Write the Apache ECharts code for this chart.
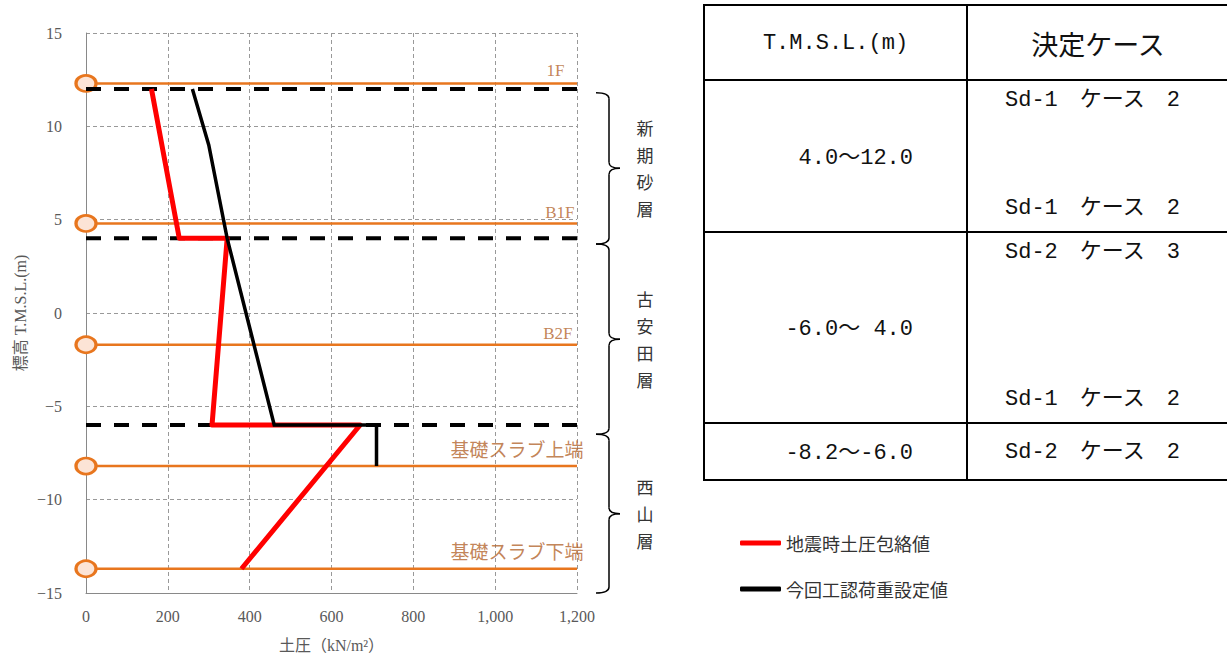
<!DOCTYPE html>
<html><head><meta charset="utf-8">
<script src="https://cdn.jsdelivr.net/npm/echarts@6/dist/echarts.min.js"></script>
<style>html,body{margin:0;padding:0;background:#fff}#c{width:1227px;height:653px}</style>
</head><body><div id="c"></div>
<script>
// ---------------- data ----------------
const xTicks = [0, 200, 400, 600, 800, 1000, 1200];
const xTickLabels = ['0', '200', '400', '600', '800', '1,000', '1,200'];
const yTicks = [-15, -10, -5, 0, 5, 10, 15];
const yTickLabels = ['−15', '−10', '−5', '0', '5', '10', '15'];

const redName = '地震時土圧包絡値';
const redPressure = [160, 228, 345, 308, 670, 380];
const redElev = [12, 4, 4, -6, -6, -13.7];

const blackName = '今回工認荷重設定値';
const blackPressure = [260, 300, 345, 460, 710, 710];
const blackElev = [12, 9, 4, -6, -6, -8.2];

const floorNames = ['1F', 'B1F', 'B2F', '基礎スラブ上端', '基礎スラブ下端'];
const floorElev = [12.3, 4.8, -1.7, -8.2, -13.7];

const boundaryElev = [12, 4, -6];

const layerNames = ['新期砂層', '古安田層', '西山層'];
const layerTop = [11.8, 3.7, -6.5];
const layerBottom = [3.7, -6.5, -15];

const tableHeader = ['T.M.S.L.(m)', '決定ケース'];
const tableRanges = ['4.0～12.0', '-6.0～ 4.0', '-8.2～-6.0'];
const tableCases = [['Sd-1\u3000ケース\u30002', 'Sd-1\u3000ケース\u30002'],
                    ['Sd-2\u3000ケース\u30003', 'Sd-1\u3000ケース\u30002'],
                    ['Sd-2\u3000ケース\u30002']];

// ---------------- styles / layout ----------------
const ORANGE = '#e8761e';
const LABEL_BROWN = '#b3652d';
const serif = "'Liberation Serif','Noto Sans CJK JP',serif";
const cjk = "'Noto Sans CJK JP',sans-serif";
const mono = "'Liberation Mono','Noto Sans CJK JP',monospace";
const floorLabelOffsets = [[-12, -13], [-2, -11], [-4, -11], [7, -16], [7, -16]];
const floorLabelSizes = [17, 17, 17, 19, 19];

const X_MIN = xTicks[0], X_MAX = xTicks[xTicks.length - 1];
const Y_MIN = yTicks[0], Y_MAX = yTicks[yTicks.length - 1];

const chart = echarts.init(document.getElementById('c'), null, { renderer: 'svg' });

const series = [];
// floor level lines
floorElev.forEach((y, i) => {
  series.push({
    type: 'line', name: 'floor' + i, silent: true,
    data: [[X_MIN, y], { value: [X_MAX, y], symbol: 'none' }],
    symbol: 'circle', symbolSize: [20, 16], showSymbol: true,
    lineStyle: { color: ORANGE, width: 2.5 },
    itemStyle: { color: '#fce4d6', borderColor: ORANGE, borderWidth: 3 },
    z: 3, animation: false
  });
});
// floor labels
series.push({
  type: 'scatter', name: 'floorLabels', silent: true, symbolSize: 1,
  itemStyle: { color: 'rgba(0,0,0,0)' },
  data: floorNames.map((n, i) => ({
    value: [X_MAX, floorElev[i]], name: n,
    label: { offset: floorLabelOffsets[i], fontSize: floorLabelSizes[i] }
  })),
  label: { show: true, position: 'left', distance: 0, formatter: p => p.name,
           color: LABEL_BROWN, fontFamily: serif },
  z: 7, animation: false
});
// stratum boundaries (black dashed)
boundaryElev.forEach((y, i) => {
  series.push({
    type: 'line', name: 'boundary' + i, silent: true, symbol: 'none',
    data: [[X_MIN, y], [X_MAX, y]],
    lineStyle: { color: '#000', width: 4, type: [15, 13], cap: 'butt' },
    z: 4, animation: false
  });
});
// red envelope
series.push({
  type: 'line', name: redName, symbol: 'none',
  data: redPressure.map((x, i) => [x, redElev[i]]),
  lineStyle: { color: '#ff0000', width: 5, join: 'round' },
  itemStyle: { color: '#ff0000' }, z: 5, animation: false
});
// black design value
series.push({
  type: 'line', name: blackName, symbol: 'none',
  data: blackPressure.map((x, i) => [x, blackElev[i]]),
  lineStyle: { color: '#000', width: 3.5, join: 'miter' },
  itemStyle: { color: '#000' }, z: 6, animation: false
});
// stratum braces
series.push({
  type: 'custom', name: 'layers', coordinateSystem: 'cartesian2d', clip: false, silent: true,
  encode: { x: 0, y: 1 },
  data: layerNames.map((n, i) => [X_MAX, layerTop[i], layerBottom[i]]),
  renderItem: (params, api) => {
    const top = api.coord([api.value(0), api.value(1)]);
    const bot = api.coord([api.value(0), api.value(2)]);
    const x0 = top[0] + 19, x1 = top[0] + 32, x2 = top[0] + 43;
    const yT = top[1], yB = bot[1], yM = (yT + yB) / 2, r = 6;
    const st = { stroke: '#000', fill: null, lineWidth: 1.5 };
    const name = layerNames[params.dataIndex];
    return {
      type: 'group', children: [
        { type: 'bezierCurve', shape: { x1: x0, y1: yT, x2: x1, y2: yT + r, cpx1: x1, cpy1: yT }, style: st },
        { type: 'line', shape: { x1: x1, y1: yT + r, x2: x1, y2: yM - r }, style: st },
        { type: 'bezierCurve', shape: { x1: x1, y1: yM - r, x2: x2, y2: yM, cpx1: x1, cpy1: yM }, style: st },
        { type: 'bezierCurve', shape: { x1: x2, y1: yM, x2: x1, y2: yM + r, cpx1: x1, cpy1: yM }, style: st },
        { type: 'line', shape: { x1: x1, y1: yM + r, x2: x1, y2: yB - r }, style: st },
        { type: 'bezierCurve', shape: { x1: x1, y1: yB - r, x2: x0, y2: yB, cpx1: x1, cpy1: yB }, style: st },
        { type: 'text', x: top[0] + 68, y: yM,
          style: { text: name.split('').join('\n'), fontSize: 17, fontFamily: cjk, fill: '#333',
                   align: 'center', verticalAlign: 'middle', lineHeight: 27 } }
      ]
    };
  },
  z: 8, animation: false
});

// ---------------- table (graphic) ----------------
const tX = [704, 967, 1229];
const tY = [5, 80, 232, 423, 480];
const graphics = [];
const lineSt = { stroke: '#000', lineWidth: 2 };
tY.forEach(y => graphics.push({ type: 'line', shape: { x1: tX[0] - 1, y1: y, x2: tX[2], y2: y }, style: lineSt }));
[tX[0], tX[1]].forEach(x => graphics.push({ type: 'line', shape: { x1: x, y1: tY[0], x2: x, y2: tY[4] }, style: lineSt }));
const txt = (text, x, y, align, size, family) => ({
  type: 'text', x, y,
  style: { text, fontSize: size, fontFamily: family, fill: '#111', align, verticalAlign: 'middle' }
});
graphics.push(txt(tableHeader[0], (tX[0] + tX[1]) / 2, (tY[0] + tY[1]) / 2 + 1, 'center', 22, mono));
graphics.push(txt(tableHeader[1], (tX[1] + tX[2]) / 2, (tY[0] + tY[1]) / 2 + 1, 'center', 27, cjk));
tableRanges.forEach((r, i) => {
  const top = tY[i + 1], bot = tY[i + 2];
  graphics.push(txt(r, 913, (top + bot) / 2 + 2, 'right', 22, mono));
  const cases = tableCases[i];
  if (cases.length === 1) {
    graphics.push(txt(cases[0], 1005, (top + bot) / 2 + 1, 'left', 22, mono));
  } else {
    graphics.push(txt(cases[0], 1005, top + 20, 'left', 22, mono));
    graphics.push(txt(cases[1], 1005, bot - 24, 'left', 22, mono));
  }
});

const option = {
  backgroundColor: '#fff',
  animation: false,
  grid: { left: 86, right: 650, top: 33, bottom: 60, containLabel: false, outerBoundsMode: 'none' },
  legend: {
    data: [redName, blackName], orient: 'vertical', left: 740, top: 534, padding: 0,
    itemWidth: 41, itemHeight: 5, itemGap: 28, icon: 'roundRect',
    textStyle: { fontSize: 18, fontFamily: cjk, color: '#333' }, selectedMode: false
  },
  xAxis: {
    type: 'value', min: X_MIN, max: X_MAX, interval: 200,
    name: '土圧（kN/m²）', nameLocation: 'middle', nameGap: 44,
    nameTextStyle: { fontSize: 16, fontFamily: serif, color: '#595959' },
    axisLine: { show: true, onZero: false, lineStyle: { color: '#898989', width: 1 } },
    axisTick: { show: false },
    axisLabel: { margin: 15, fontSize: 16, fontFamily: serif, color: '#595959',
                 formatter: v => xTickLabels[xTicks.indexOf(v)] },
    splitLine: { show: true, lineStyle: { color: '#999', width: 1, type: [4, 3] } }
  },
  yAxis: {
    type: 'value', min: Y_MIN, max: Y_MAX, interval: 5,
    name: '標高 T.M.S.L.(m)', nameLocation: 'middle', nameGap: 58, nameRotate: 90,
    nameTextStyle: { fontSize: 16, fontFamily: serif, color: '#595959' },
    axisLine: { show: true, onZero: false, lineStyle: { color: '#898989', width: 1 } },
    axisTick: { show: false },
    axisLabel: { margin: 24, fontSize: 16, fontFamily: serif, color: '#595959',
                 formatter: v => yTickLabels[yTicks.indexOf(v)] },
    splitLine: { show: true, lineStyle: { color: '#999', width: 1, type: [4, 3] } }
  },
  series,
  graphic: graphics
};
chart.setOption(option);
</script>
</body></html>
